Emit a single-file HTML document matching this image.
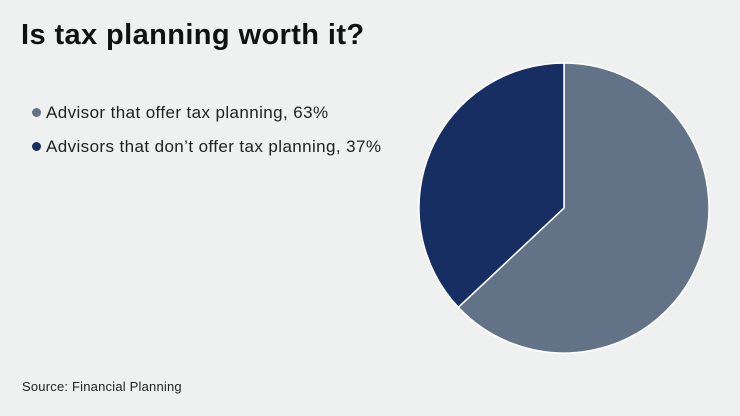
<!DOCTYPE html>
<html><head><meta charset="utf-8"><style>
body{margin:0;width:740px;height:416px;background:#eff1f0;font-family:"Liberation Sans",sans-serif;position:relative;overflow:hidden}
.t{position:absolute;left:21px;top:19px;font-size:29px;font-weight:bold;color:#111;letter-spacing:0.4px}
.l{position:absolute;left:32px;font-size:17px;color:#222;white-space:nowrap;letter-spacing:0.4px}
.l span{display:inline-block;width:9px;height:9px;border-radius:50%;margin-right:5px;vertical-align:1px}
.s{position:absolute;left:22px;top:379px;font-size:13px;color:#222;letter-spacing:0.2px}
svg{position:absolute;left:0;top:0}
</style></head><body>
<div class="t">Is tax planning worth it?</div>
<div class="l" style="top:103px"><span style="background:#637387"></span>Advisor that offer tax planning, 63%</div>
<div class="l" style="top:137px"><span style="background:#172e63"></span>Advisors that don’t offer tax planning, 37%</div>
<svg width="740" height="416">
<path d="M564,208 L564,63 A145,145 0 1 1 458.3,307.3 Z" fill="#637387" stroke="#fff" stroke-width="1.5"/>
<path d="M564,208 L458.3,307.3 A145,145 0 0 1 564,63 Z" fill="#172e63" stroke="#fff" stroke-width="1.5"/>
</svg>
<div class="s">Source: Financial Planning</div>
</body></html>
